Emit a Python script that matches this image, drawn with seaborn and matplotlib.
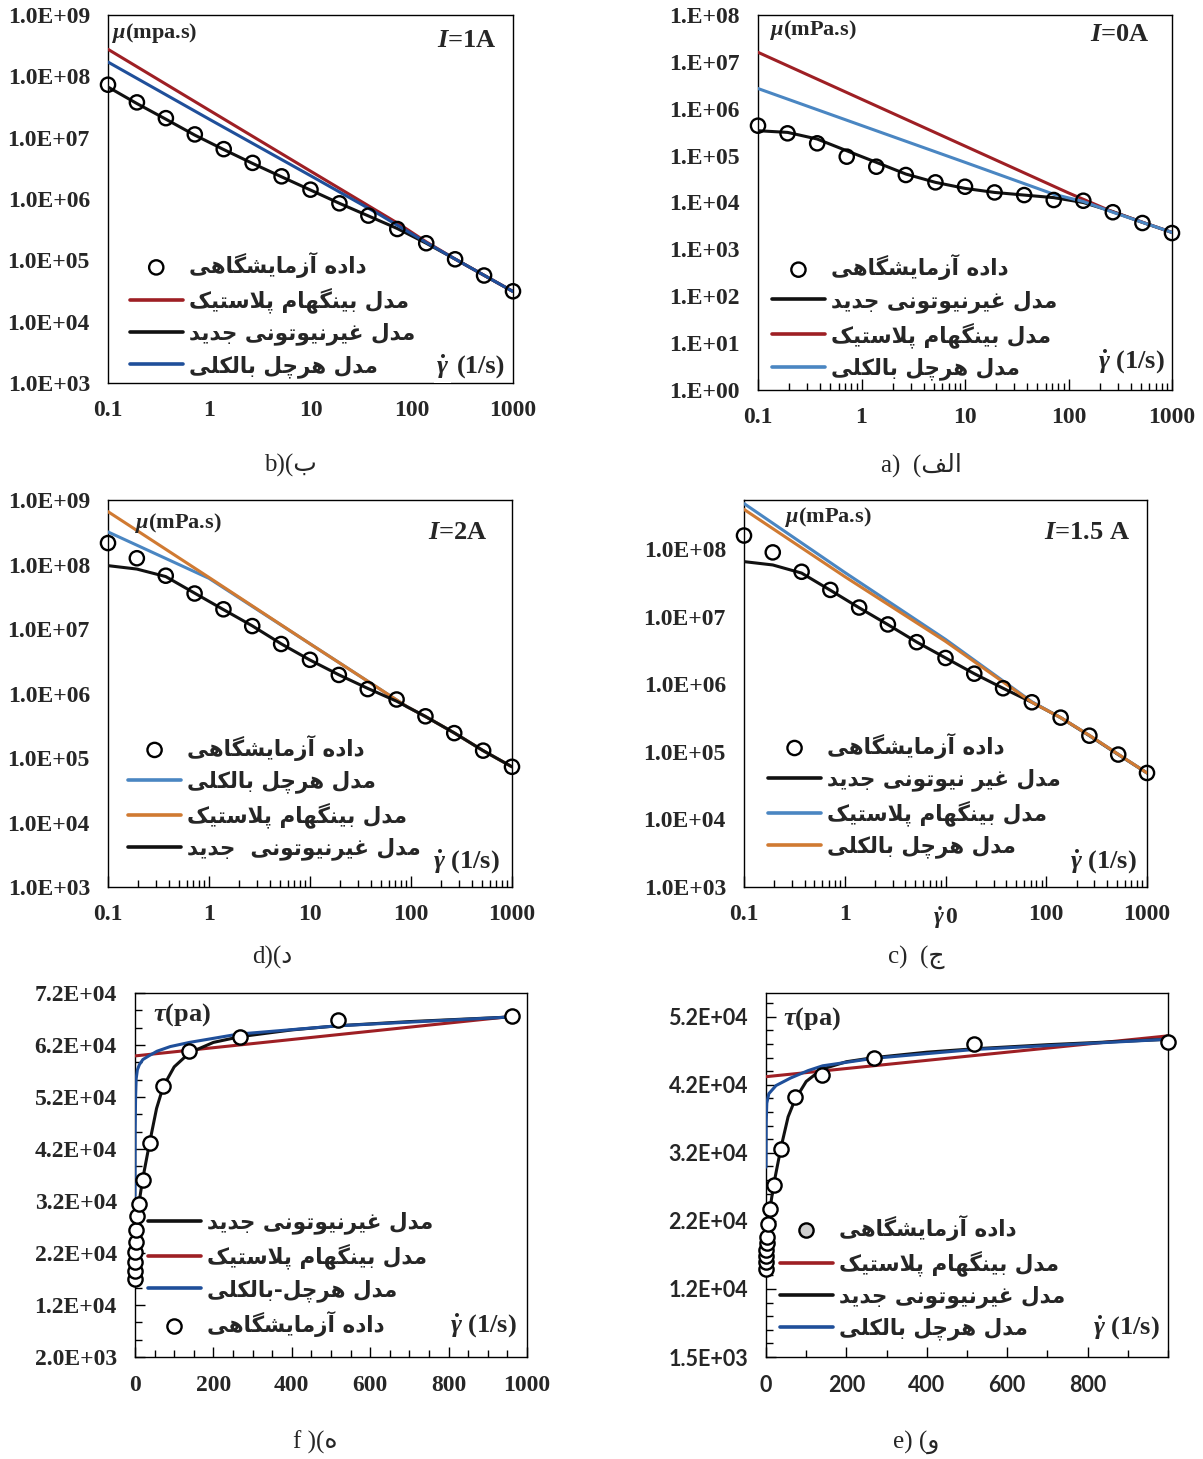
import numpy as np
import matplotlib
matplotlib.use("Agg")
import matplotlib.pyplot as plt
import seaborn as sns
from matplotlib.font_manager import FontProperties
from matplotlib.ticker import (FixedLocator, FixedFormatter, FuncFormatter,
                               LogLocator, NullLocator)

# ------------------------------------------------------------------ data
shear_rate = [0.1, 0.193, 0.373, 0.72, 1.39, 2.68, 5.18, 10.0, 19.3, 37.3,
              72.0, 139.0, 268.0, 518.0, 1000.0]

# I = 0 A, apparent viscosity (mPa.s)
mu_0A_exp = [4.35e5, 2.99e5, 1.83e5, 9.5e4, 5.8e4, 3.86e4, 2.69e4, 2.17e4,
             1.64e4, 1.44e4, 1.13e4, 1.09e4, 6.2e3, 3.65e3, 2.23e3]
mu_0A_new = [3.40e5, 3.13e5, 2.26e5, 1.27e5, 7.2e4, 4.05e4, 2.69e4, 2.0e4,
             1.64e4, 1.44e4, 1.27e4, 1.0e4, 6.4e3, 3.77e3, 2.3e3]
rate_0A_bingham = [0.1, 1.0, 10.0, 100.0, 268.0, 1000.0]
mu_0A_bingham = [1.6e7, 1.6e6, 1.6e5, 1.6e4, 6.3e3, 2.3e3]
rate_0A_hb = [0.1, 1.0, 10.0, 72.0, 139.0, 268.0, 1000.0]
mu_0A_hb = [2.7e6, 4.4e5, 7.2e4, 1.5e4, 1.05e4, 6.2e3, 2.3e3]

# I = 1 A
mu_1A_exp = [7.3e7, 3.76e7, 2.08e7, 1.13e7, 6.5e6, 3.88e6, 2.34e6, 1.42e6,
             8.5e5, 5.36e5, 3.24e5, 1.9e5, 1.04e5, 5.66e4, 3.13e4]
mu_1A_new = [6.7e7, 3.6e7, 2.0e7, 1.1e7, 6.4e6, 3.8e6, 2.3e6, 1.4e6,
             8.5e5, 5.3e5, 3.3e5, 1.9e5, 1.05e5, 5.7e4, 3.1e4]
rate_1A_bingham = [0.1, 1.0, 10.0, 75.0, 139.0, 268.0, 1000.0]
mu_1A_bingham = [2.76e8, 2.8e7, 2.85e6, 3.9e5, 2.0e5, 1.05e5, 3.1e4]
rate_1A_hb = [0.1, 1.0, 10.0, 47.0, 139.0, 268.0, 1000.0]
mu_1A_hb = [1.71e8, 2.0e7, 2.4e6, 5.7e5, 1.95e5, 1.05e5, 3.1e4]

# I = 1.5 A
mu_15A_exp = [1.58e8, 8.9e7, 4.6e7, 2.48e7, 1.36e7, 7.65e6, 4.18e6, 2.44e6,
              1.43e6, 8.7e5, 5.4e5, 3.2e5, 1.73e5, 9.1e4, 4.86e4]
mu_15A_new = [6.5e7, 5.8e7, 4.4e7, 2.45e7, 1.35e7, 7.6e6, 4.2e6, 2.45e6,
              1.43e6, 8.7e5, 5.4e5, 3.2e5, 1.73e5, 9.1e4, 4.86e4]
rate_15A_models = [0.1, 1.0, 10.0, 72.0, 139.0, 268.0, 518.0, 1000.0]
mu_15A_bingham = [4.7e8, 4.5e7, 4.6e6, 5.5e5, 3.2e5, 1.75e5, 9.2e4, 4.86e4]
mu_15A_hb = [3.85e8, 3.9e7, 4.3e6, 5.4e5, 3.2e5, 1.75e5, 9.2e4, 4.86e4]

# I = 2 A
mu_2A_exp = [2.15e8, 1.25e8, 6.7e7, 3.55e7, 2.02e7, 1.11e7, 5.85e6, 3.33e6,
             1.94e6, 1.17e6, 8.07e5, 4.43e5, 2.43e5, 1.30e5, 7.3e4]
mu_2A_new = [9.6e7, 8.5e7, 6.5e7, 3.6e7, 2.0e7, 1.12e7, 5.9e6, 3.3e6,
             1.95e6, 1.2e6, 7.6e5, 4.4e5, 2.45e5, 1.3e5, 7.3e4]
rate_2A_models = [0.1, 1.0, 10.0, 92.0, 139.0, 268.0, 518.0, 1000.0]
mu_2A_bingham = [6.6e8, 6.3e7, 5.9e6, 6.2e5, 4.4e5, 2.45e5, 1.3e5, 7.3e4]
mu_2A_hb = [3.2e8, 6.1e7, 5.9e6, 6.2e5, 4.4e5, 2.45e5, 1.3e5, 7.3e4]

# shear stress (Pa), panel f
rate_f_exp = [0.1, 0.193, 0.373, 0.72, 1.39, 2.68, 5.18, 10.0, 19.3, 37.3,
              72.0, 139.0, 268.0, 518.0, 962.0]
tau_f_exp = [17000, 18500, 20300, 22200, 24200, 26500, 29200, 31500, 36100,
             43200, 54200, 60900, 63600, 66800, 67500]
rate_f_new = [0.1, 5.18, 10, 19.3, 37.3, 55, 72, 100, 139, 200, 268, 400, 518,
              700, 962]
tau_f_new = [16900, 29000, 31500, 36100, 43200, 49800, 54000, 57800, 60500,
             62500, 63600, 64900, 65700, 66500, 67400]
rate_f_hb = [0.1, 0.5, 1.5, 3, 6, 11, 20, 35, 56, 90, 139, 264, 519, 962]
tau_f_hb = [33000, 46000, 52000, 55500, 57200, 58200, 59200, 59900, 60800,
            61700, 62500, 64100, 65700, 67400]
rate_f_bingham = [0.1, 962.0]
tau_f_bingham = [59900, 67500]

# shear stress (Pa), panel e
tau_e_exp = [14500, 15400, 16300, 17300, 18200, 19200, 21100, 23200, 26800,
             32100, 39700, 42900, 45400, 47500, 47800]
rate_e_new = [0.1, 5.18, 10, 19.3, 37.3, 55, 72, 100, 139, 200, 268, 400, 518,
              700, 1000]
tau_e_new = [14500, 21000, 23300, 26900, 32300, 36800, 39300, 42000, 43800,
             44900, 45500, 46300, 46800, 47400, 48200]
rate_e_hb = [0.1, 0.5, 2, 7, 25, 61, 105, 141, 268, 518, 1000]
tau_e_hb = [29400, 36000, 38800, 40200, 41400, 42500, 43600, 44300, 45400,
            46700, 48200]
rate_e_bingham = [0.1, 1000.0]
tau_e_bingham = [42700, 48700]

# tick labels
log_x_ticks = [0.1, 1, 10, 100, 1000]
log_x_labels = ["0.1", "1", "10", "100", "1000"]
log_x_labels_c = ["0.1", "1", r"$\dot{\gamma}\,$0", "100", "1000"]
f_y_ticks = [2000, 12000, 22000, 32000, 42000, 52000, 62000, 72000]
f_y_labels = ["2.0E+03", "1.2E+04", "2.2E+04", "3.2E+04", "4.2E+04",
              "5.2E+04", "6.2E+04", "7.2E+04"]
f_x_ticks = [0, 200, 400, 600, 800, 1000]
e_y_ticks = [1500, 11500, 21500, 31500, 41500, 51500]
e_y_labels = ["1.5E+03", "1.2E+04", "2.2E+04", "3.2E+04", "4.2E+04", "5.2E+04"]
e_x_ticks = [0, 200, 400, 600, 800]

# legend texts
LBL_EXP = "داده آزمایشگاهی"
LBL_BINGHAM = "مدل بینگهام پلاستیک"
LBL_NEW = "مدل غیرنیوتونی جدید"
LBL_NEW_C = "مدل غیر نیوتونی جدید"
LBL_NEW_D = "مدل غیرنیوتونی  جدید"
LBL_HB = "مدل هرچل بالکلی"
LBL_HB_F = "مدل هرچل-بالکلی"

# ------------------------------------------------- Persian glyph shaping
# matplotlib lays text out left to right without contextual forms, so the
# letters are mapped to their presentation forms and the order reversed.
_DUAL = {
    "ب": "\uFE8F\uFE90\uFE91\uFE92", "پ": "\uFB56\uFB57\uFB58\uFB59",
    "ت": "\uFE95\uFE96\uFE97\uFE98", "ج": "\uFE9D\uFE9E\uFE9F\uFEA0",
    "چ": "\uFB7A\uFB7B\uFB7C\uFB7D", "س": "\uFEB1\uFEB2\uFEB3\uFEB4",
    "ش": "\uFEB5\uFEB6\uFEB7\uFEB8", "غ": "\uFECD\uFECE\uFECF\uFED0",
    "ف": "\uFED1\uFED2\uFED3\uFED4", "\u06A9": "\uFB8E\uFB8F\uFB90\uFB91",
    "گ": "\uFB92\uFB93\uFB94\uFB95", "ل": "\uFEDD\uFEDE\uFEDF\uFEE0",
    "م": "\uFEE1\uFEE2\uFEE3\uFEE4", "ن": "\uFEE5\uFEE6\uFEE7\uFEE8",
    "ه": "\uFEE9\uFEEA\uFEEB\uFEEC", "\u06CC": "\uFBFC\uFBFD\uFBFE\uFBFF",
}
_RIGHT = {
    "ا": "\uFE8D\uFE8E", "آ": "\uFE81\uFE82", "د": "\uFEA9\uFEAA",
    "ر": "\uFEAD\uFEAE", "ز": "\uFEAF\uFEB0", "و": "\uFEED\uFEEE",
}
_LAM_ALEF = {"ا": "\uFEFB\uFEFC", "آ": "\uFEF5\uFEF6"}


def rtl(text):
    text = (text.replace("\u064A", "\u06CC").replace("\u0649", "\u06CC")
                .replace("\u0643", "\u06A9"))
    out, prev_joins, i, n = [], False, 0, len(text)
    while i < n:
        c = text[i]
        nxt = text[i + 1] if i + 1 < n else ""
        if c == "ل" and nxt in _LAM_ALEF:
            forms = _LAM_ALEF[nxt]
            out.append(forms[1] if prev_joins else forms[0])
            prev_joins = False
            i += 2
            continue
        if c in _DUAL:
            forms = _DUAL[c]
            next_joins = nxt in _DUAL or nxt in _RIGHT
            if prev_joins and next_joins:
                g = forms[3]
            elif prev_joins:
                g = forms[1]
            elif next_joins:
                g = forms[2]
            else:
                g = forms[0]
            out.append(g)
            prev_joins = next_joins
        elif c in _RIGHT:
            out.append(_RIGHT[c][1] if prev_joins else _RIGHT[c][0])
            prev_joins = False
        else:
            out.append(c)
            prev_joins = False
        i += 1
    return "".join(reversed(out))


# ------------------------------------------------------------ styling
sns.set_theme(style="white")
plt.rcParams.update({
    "font.family": ["Liberation Serif", "DejaVu Sans"],
    "font.weight": "bold",
    "mathtext.fontset": "custom",
    "mathtext.rm": "Liberation Serif:bold",
    "mathtext.it": "Liberation Serif:italic:bold",
    "mathtext.bf": "Liberation Serif:bold",
    "axes.edgecolor": "black",
    "axes.linewidth": 1.0,
    "axes.facecolor": "white",
    "figure.facecolor": "white",
})

RED = "#9E1F24"
NAVY = "#1F4F9A"
SKY = "#4A86C2"
ORANGE = "#D07A32"
BLACK = "#111111"
LW = 2.2
FA = FontProperties(family="DejaVu Sans", weight="bold", size=15.5)

W_PX, H_PX = 1203, 1459
fig = plt.figure(figsize=(W_PX / 100, H_PX / 100), dpi=100)


def add_axes(left, top, right, bottom):
    return fig.add_axes([left / W_PX, 1 - bottom / H_PX,
                         (right - left) / W_PX, (bottom - top) / H_PX])


def draw_line(ax, x, y, color, label):
    sns.lineplot(x=x, y=y, ax=ax, color=color, linewidth=LW, label=rtl(label),
                 estimator=None, sort=False, errorbar=None, zorder=3)


def draw_exp(ax, x, y, fill):
    sns.scatterplot(x=x, y=y, ax=ax, s=105, marker="o", facecolor=fill,
                    edgecolor="black", linewidth=1.7, zorder=6, clip_on=False,
                    label=rtl(LBL_EXP))


def add_legend(ax, order, anchor):
    handles, labels = ax.get_legend_handles_labels()
    lookup = dict(zip(labels, handles))
    keys = [rtl(k) for k in order]
    leg = ax.legend([lookup[k] for k in keys], keys, loc="upper left",
                    bbox_to_anchor=anchor, prop=FA, frameon=False,
                    borderaxespad=0, borderpad=0, handlelength=2.45,
                    handletextpad=0.28, labelspacing=0.44, scatterpoints=1)
    for ln in leg.get_lines():
        ln.set_linewidth(2.6)
    return leg


def style_log(ax, ymin, ymax, prefix, xlabels, minor):
    ax.set_xscale("log")
    ax.set_yscale("log")
    ax.set_xlim(0.1, 1000)
    ax.set_ylim(ymin, ymax)
    ax.xaxis.set_major_locator(FixedLocator(log_x_ticks))
    ax.xaxis.set_major_formatter(FixedFormatter(xlabels))
    if minor:
        ax.xaxis.set_minor_locator(LogLocator(base=10, subs=np.arange(2, 10),
                                              numticks=20))
    else:
        ax.xaxis.set_minor_locator(NullLocator())
    ax.yaxis.set_major_locator(LogLocator(base=10, numticks=20))
    ax.yaxis.set_major_formatter(FuncFormatter(
        lambda v, _: f"{prefix}E+{int(round(np.log10(v))):02d}"))
    ax.yaxis.set_minor_locator(NullLocator())
    ax.tick_params(axis="x", which="both", direction="in", bottom=True,
                   top=False, pad=12, labelsize=17, color="black")
    ax.tick_params(axis="x", which="major", length=8 if minor else 0, width=1)
    ax.tick_params(axis="x", which="minor", length=5, width=1)
    ax.tick_params(axis="y", which="both", left=True, length=0, pad=13,
                   labelsize=17)
    for s in ax.spines.values():
        s.set_color("black")
        s.set_linewidth(1.0)


def style_lin(ax, ymin, ymax, yticks, ylabels, yminor, xticks, xminor, family,
              size):
    ax.set_xlim(0, 1000)
    ax.set_ylim(ymin, ymax)
    ax.xaxis.set_major_locator(FixedLocator(xticks))
    ax.xaxis.set_major_formatter(FixedFormatter([str(t) for t in xticks]))
    ax.xaxis.set_minor_locator(FixedLocator(xminor))
    ax.yaxis.set_major_locator(FixedLocator(yticks))
    ax.yaxis.set_major_formatter(FixedFormatter(ylabels))
    ax.yaxis.set_minor_locator(FixedLocator(yminor))
    ax.tick_params(axis="both", which="both", direction="in", bottom=True,
                   left=True, top=False, right=False, color="black",
                   labelsize=size, labelfontfamily=family)
    ax.tick_params(axis="both", which="major", length=7, width=1)
    ax.tick_params(axis="both", which="minor", length=5, width=1)
    ax.tick_params(axis="x", pad=13)
    ax.tick_params(axis="y", pad=13)
    for s in ax.spines.values():
        s.set_color("black")
        s.set_linewidth(1.0)


def corner_texts(ax, unit, unit_xy, tag, tag_xy, rate_xy, unit_size=16):
    ax.text(*unit_xy, unit, transform=ax.transAxes, ha="left", va="center",
            fontsize=unit_size)
    if tag:
        ax.text(*tag_xy, tag, transform=ax.transAxes, ha="right",
                va="center", fontsize=19)
    if rate_xy is not None:
        ax.text(*rate_xy, r"$\dot{\gamma}$ (1/s)", transform=ax.transAxes,
                ha="right", va="center", fontsize=19)


MU = r"$\mu$(mPa.s)"

# ---------------------------------------------------------- panel b (1 A)
ax = add_axes(108, 15, 513, 383)
draw_line(ax, shear_rate, mu_1A_new, BLACK, LBL_NEW)
draw_line(ax, rate_1A_bingham, mu_1A_bingham, RED, LBL_BINGHAM)
draw_line(ax, rate_1A_hb, mu_1A_hb, NAVY, LBL_HB)
draw_exp(ax, shear_rate, mu_1A_exp, "none")
style_log(ax, 1e3, 1e9, "1.0", log_x_labels, minor=False)
add_legend(ax, [LBL_EXP, LBL_BINGHAM, LBL_NEW, LBL_HB], (0.054, 0.356))
corner_texts(ax, r"$\mu$(mpa.s)", (0.01, 0.95), r"$I$=1A", (0.96, 0.932),
             None)
ax.text(0.825, 0.043, r"$\dot{\gamma}$", transform=ax.transAxes, ha="center",
        va="center", fontsize=19, zorder=10,
        bbox=dict(facecolor="white", edgecolor="none", pad=1.5))
ax.text(0.98, 0.043, "(1/s)", transform=ax.transAxes, ha="right",
        va="center", fontsize=19)

# ---------------------------------------------------------- panel a (0 A)
ax = add_axes(758, 15, 1172, 390)
draw_line(ax, shear_rate, mu_0A_new, BLACK, LBL_NEW)
draw_line(ax, rate_0A_bingham, mu_0A_bingham, RED, LBL_BINGHAM)
draw_line(ax, rate_0A_hb, mu_0A_hb, SKY, LBL_HB)
draw_exp(ax, shear_rate, mu_0A_exp, "none")
style_log(ax, 1, 1e8, "1.", log_x_labels, minor=True)
add_legend(ax, [LBL_EXP, LBL_NEW, LBL_BINGHAM, LBL_HB], (0.034, 0.362))
corner_texts(ax, MU, (0.029, 0.96), r"$I$=0A", (0.947, 0.949),
             (0.983, 0.075))

# ---------------------------------------------------------- panel d (2 A)
ax = add_axes(108, 500, 512, 887)
draw_line(ax, rate_2A_models, mu_2A_hb, SKY, LBL_HB)
draw_line(ax, rate_2A_models, mu_2A_bingham, ORANGE, LBL_BINGHAM)
draw_line(ax, shear_rate, mu_2A_new, BLACK, LBL_NEW_D)
draw_exp(ax, shear_rate, mu_2A_exp, "none")
style_log(ax, 1e3, 1e9, "1.0", log_x_labels, minor=True)
add_legend(ax, [LBL_EXP, LBL_HB, LBL_BINGHAM, LBL_NEW_D], (0.05, 0.394))
corner_texts(ax, MU, (0.067, 0.94), r"$I$=2A", (0.94, 0.915), (0.97, 0.065))

# -------------------------------------------------------- panel c (1.5 A)
ax = add_axes(744, 500, 1147, 887)
draw_line(ax, shear_rate, mu_15A_new, BLACK, LBL_NEW_C)
draw_line(ax, rate_15A_models, mu_15A_bingham, SKY, LBL_BINGHAM)
draw_line(ax, rate_15A_models, mu_15A_hb, ORANGE, LBL_HB)
draw_exp(ax, shear_rate, mu_15A_exp, "none")
style_log(ax, 1e3, 5.3e8, "1.0", log_x_labels_c, minor=True)
add_legend(ax, [LBL_EXP, LBL_NEW_C, LBL_BINGHAM, LBL_HB], (0.06, 0.399))
corner_texts(ax, MU, (0.102, 0.956), r"$I$=1.5 A", (0.958, 0.917),
             (0.975, 0.065))

# ------------------------------------------------- panel f (shear stress)
ax = add_axes(135, 993, 527, 1357)
draw_line(ax, rate_f_bingham, tau_f_bingham, RED, LBL_BINGHAM)
draw_line(ax, rate_f_new, tau_f_new, BLACK, LBL_NEW)
draw_line(ax, rate_f_hb, tau_f_hb, NAVY, LBL_HB_F)
draw_exp(ax, rate_f_exp, tau_f_exp, "white")
style_lin(ax, 2000, 72000, f_y_ticks, f_y_labels,
          np.arange(2000, 72001, 10000 / 3), f_x_ticks,
          np.arange(0, 1001, 50), "Liberation Serif", 17)
add_legend(ax, [LBL_NEW, LBL_BINGHAM, LBL_HB_F, LBL_EXP], (0.033, 0.40))
corner_texts(ax, r"$\tau$(pa)", (0.046, 0.94), None, None, (0.974, 0.085),
             unit_size=19)

# ------------------------------------------------- panel e (shear stress)
ax = add_axes(766, 993, 1168, 1357)
draw_line(ax, rate_e_bingham, tau_e_bingham, RED, LBL_BINGHAM)
draw_line(ax, rate_e_new, tau_e_new, BLACK, LBL_NEW)
draw_line(ax, rate_e_hb, tau_e_hb, NAVY, LBL_HB)
draw_exp(ax, shear_rate, tau_e_exp, "white")
style_lin(ax, 1500, 55000, e_y_ticks, e_y_labels,
          np.arange(1500, 55000, 2000), e_x_ticks,
          np.arange(0, 1001, 100), "Lato", 15.5)
leg = add_legend(ax, [LBL_EXP, LBL_BINGHAM, LBL_NEW, LBL_HB], (0.035, 0.391))
leg.legend_handles[0].set_facecolor("#cfcfcf")
corner_texts(ax, r"$\tau$(pa)", (0.042, 0.931), None, None, (0.98, 0.08),
             unit_size=19)

# ----------------------------------------------------------- captions
captions = [
    (290, 465, "b)(" + rtl("ب")),
    (921, 465, "a)  (" + rtl("الف")),
    (272, 957, "d)(" + rtl("د")),
    (916, 957, "c)  (" + rtl("ج")),
    (315, 1442, "f )(" + rtl("ه")),
    (916, 1442, "e) (" + rtl("و")),
]
for cx, cy, txt in captions:
    fig.text(cx / W_PX, 1 - cy / H_PX, txt, ha="center", va="center",
             fontsize=18, fontweight="normal",
             family=["Liberation Serif", "DejaVu Sans"])

fig.savefig("out.png", dpi=100)
